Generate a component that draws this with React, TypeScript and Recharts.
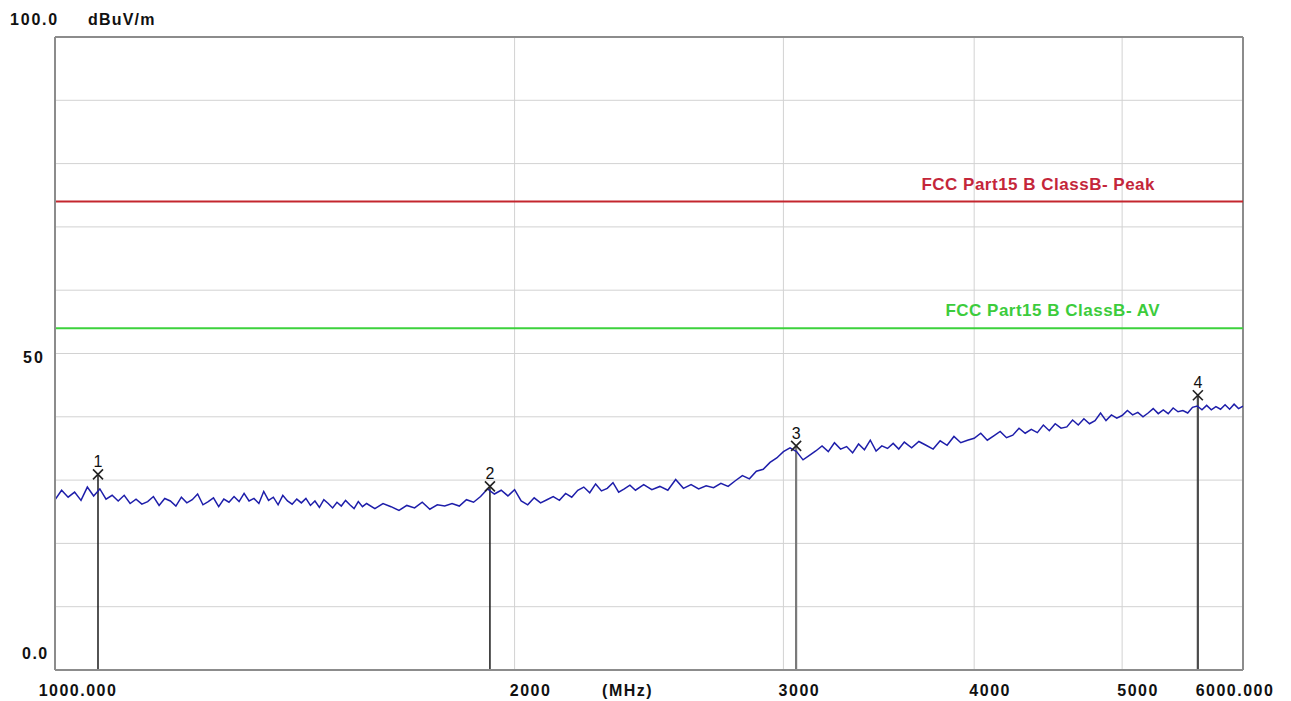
import React from "react";
import {
  ComposedChart, Line, XAxis, YAxis, CartesianGrid,
  ReferenceLine, ReferenceDot,
} from "recharts";

const freqs = [
  1000, 1010, 1020, 1030, 1040, 1050, 1060, 1070, 1080, 1090, 1100,
  1110, 1120, 1130, 1140, 1150, 1160, 1170, 1180, 1190, 1200,
  1210, 1220, 1230, 1240, 1250, 1260, 1270, 1280, 1290, 1300,
  1310, 1320, 1330, 1340, 1350, 1360, 1370, 1380, 1390, 1400,
  1410, 1420, 1430, 1440, 1450, 1460, 1470, 1480, 1490, 1500,
  1510, 1520, 1530, 1540, 1550, 1560, 1570, 1580, 1590, 1600,
  1620, 1640, 1660, 1680, 1700, 1720, 1740, 1760, 1780, 1800,
  1820, 1840, 1860, 1880, 1900, 1920, 1940, 1960, 1980, 2000,
  2020, 2040, 2060, 2080, 2100, 2120, 2140, 2160, 2180, 2200,
  2220, 2240, 2260, 2280, 2300, 2320, 2340, 2360, 2380, 2400,
  2430, 2460, 2490, 2520, 2550, 2580, 2610, 2640, 2670, 2700,
  2730, 2760, 2790, 2820, 2850, 2880, 2910, 2940, 2970, 3000,
  3030, 3060, 3090, 3120, 3150, 3180, 3210, 3240, 3270, 3300,
  3330, 3360, 3390, 3420, 3450, 3480, 3510, 3540, 3570, 3600,
  3640, 3680, 3720, 3760, 3800, 3840, 3880, 3920, 3960, 4000,
  4040, 4080, 4120, 4160, 4200, 4240, 4280, 4320, 4360, 4400,
  4440, 4480, 4520, 4560, 4600, 4640, 4680, 4720, 4760, 4800,
  4840, 4880, 4920, 4960, 5000, 5040, 5080, 5120, 5160, 5200,
  5240, 5280, 5320, 5360, 5400, 5440, 5480, 5520, 5560, 5600,
  5640, 5680, 5720, 5760, 5800, 5840, 5880, 5920, 5960, 6000,
];

const levels = [
  26.9, 28.4, 27.3, 28.1, 26.8, 28.9, 27.5, 28.6, 27.0, 27.6, 26.7,
  27.6, 26.3, 27.0, 26.2, 26.6, 27.4, 26.0, 27.1, 26.7, 25.9,
  27.3, 26.4, 26.9, 27.8, 26.1, 26.6, 27.2, 25.8, 27.0, 26.5,
  27.4, 26.6, 27.9, 26.7, 27.1, 26.3, 28.2, 26.8, 27.3, 26.1,
  27.6, 26.7, 26.2, 27.0, 26.4, 27.1, 26.0, 26.7, 25.7, 26.9,
  26.3, 25.6, 26.5, 25.9, 26.8, 26.1, 25.5, 26.6, 25.8, 26.3,
  25.5, 26.3, 25.8, 25.2, 26.0, 25.6, 26.5, 25.4, 26.1, 25.9,
  26.3, 25.9, 26.9, 26.5, 27.4, 28.6, 27.8, 28.4, 27.5, 28.5,
  26.7, 26.1, 27.2, 26.4, 26.9, 27.4, 26.8, 27.9, 27.3, 28.4,
  28.9, 28.0, 29.4, 28.3, 28.7, 29.6, 28.1, 28.6, 29.2, 28.4,
  29.3, 28.5, 29.0, 28.4, 30.1, 28.7, 29.3, 28.6, 29.1, 28.8,
  29.5, 29.0, 29.9, 30.7, 30.2, 31.4, 31.7, 32.8, 33.5, 34.5,
  35.1, 34.5, 33.2, 33.9, 34.6, 35.4, 34.5, 35.9, 34.9, 35.3,
  34.3, 35.7, 34.8, 36.3, 34.6, 35.4, 35.0, 35.8, 34.9, 36.0,
  35.1, 36.1, 35.5, 34.9, 36.2, 35.5, 36.9, 35.9, 36.3, 36.6,
  37.4, 36.3, 37.0, 37.7, 36.7, 37.1, 38.2, 37.4, 38.0, 37.5,
  38.7, 37.8, 38.9, 38.2, 38.4, 39.5, 38.7, 39.7, 38.9, 39.4,
  40.6, 39.4, 40.3, 39.8, 40.2, 41.0, 40.3, 40.7, 40.0, 40.6,
  41.3, 40.5, 41.1, 40.5, 41.4, 40.8, 41.0, 40.6, 41.5, 41.7,
  41.1, 41.8, 41.1, 41.6, 41.2, 41.9, 41.2, 42.0, 41.3, 41.7,
];

// markers
const markerIds = ["1", "2", "3", "4"];
const markerFreqs = [1067, 1927, 3058, 5605];
const markerLevels = [30.9, 29.0, 35.4, 43.4];
const markerStem = ["#1a1a1a", "#1a1a1a", "#7a7a7a", "#4a4a4a"];

// limit lines
const peakLimit = 74;
const avLimit = 54;
const peakName = "FCC Part15 B ClassB- Peak";
const avName = "FCC Part15 B ClassB- AV";

const xTicks = [1000, 2000, 3000, 4000, 5000, 6000];
const yTicks = [0, 10, 20, 30, 40, 50, 60, 70, 80, 90, 100];

const trace = freqs.map((f, i) => ({ f, v: levels[i] }));

const FONT = "'Liberation Sans', Arial, sans-serif";
const tickText = { fontFamily: FONT, fontWeight: 700, fontSize: 16, fill: "#111" };

function XTick({ x, y, payload }: any) {
  const v = payload.value;
  const label = v === 1000 ? "1000.000" : v === 6000 ? "6000.000" : String(v);
  const dx = v === 1000 ? 23 : v === 6000 ? -8 : 16;
  return (
    <g>
      <text x={x + dx} y={y + 24} textAnchor="middle" letterSpacing={1.5} {...tickText}>
        {label}
      </text>
      {v === 2000 && (
        <text x={x + 113} y={y + 24} textAnchor="middle" letterSpacing={1.5} {...tickText}>
          (MHz)
        </text>
      )}
    </g>
  );
}

function YTick({ y, payload }: any) {
  const v = payload.value;
  if (v === 100) {
    return (
      <g>
        <text x={10} y={y - 12} letterSpacing={1.8} {...tickText}>100.0</text>
        <text x={88} y={y - 12} letterSpacing={1.2} {...tickText}>dBuV/m</text>
      </g>
    );
  }
  if (v === 50) return <text x={23} y={y + 9} letterSpacing={2} {...tickText}>50</text>;
  if (v === 0) return <text x={22} y={y - 11} letterSpacing={1.5} {...tickText}>0.0</text>;
  return <g />;
}

const limitLabel = (text: string, color: string, right: number) => (p: any) => {
  const vb = p.viewBox || {};
  return (
    <text
      x={(vb.x ?? 0) + (vb.width ?? 0) - right}
      y={(vb.y ?? 0) - 12}
      textAnchor="end"
      fontFamily={FONT}
      fontWeight={700}
      fontSize={17}
      letterSpacing={0.5}
      fill={color}
    >
      {text}
    </text>
  );
};

const MarkerX = (id: string) => (p: any) => {
  const { cx, cy } = p;
  return (
    <g>
      <line x1={cx - 5} y1={cy - 5} x2={cx + 5} y2={cy + 5} stroke="#222" strokeWidth={1.6} />
      <line x1={cx - 5} y1={cy + 5} x2={cx + 5} y2={cy - 5} stroke="#222" strokeWidth={1.6} />
      <text x={cx} y={cy - 7} textAnchor="middle" fontFamily={FONT} fontSize={16} fill="#111">
        {id}
      </text>
    </g>
  );
};

export default function App() {
  return (
    <div style={{ position: "absolute", left: 0, top: 0, background: "#fff" }}>
      <ComposedChart
        width={1291}
        height={701}
        data={trace}
        margin={{ top: 37, right: 48, bottom: 0, left: 0 }}
      >
        <CartesianGrid stroke="#d2d2d2" strokeWidth={1} />
        <XAxis
          dataKey="f"
          type="number"
          scale="log"
          domain={[1000, 6000]}
          ticks={xTicks}
          allowDataOverflow
          height={31}
          tickSize={0}
          tickLine={false}
          axisLine={{ stroke: "#8c8c8c", strokeWidth: 2 }}
          tick={<XTick />}
          interval={0}
        />
        <YAxis
          type="number"
          domain={[0, 100]}
          ticks={yTicks}
          width={55}
          tickSize={0}
          tickLine={false}
          axisLine={{ stroke: "#8c8c8c", strokeWidth: 2 }}
          tick={<YTick />}
          interval={0}
        />
        <ReferenceLine y={100} stroke="#8c8c8c" strokeWidth={2} />
        <ReferenceLine x={6000} stroke="#8c8c8c" strokeWidth={2} />
        <ReferenceLine
          y={peakLimit}
          stroke="#c4262e"
          strokeWidth={2}
          label={limitLabel(peakName, "#c4263a", 88)}
        />
        <ReferenceLine
          y={avLimit}
          stroke="#3cd23c"
          strokeWidth={2}
          label={limitLabel(avName, "#3ccc3c", 83)}
        />
        {markerFreqs.map((f, i) => (
          <ReferenceLine
            key={`stem-${i}`}
            segment={[{ x: f, y: markerLevels[i] }, { x: f, y: 0 }]}
            stroke={markerStem[i]}
            strokeWidth={i < 2 ? 1.5 : 2.2}
          />
        ))}
        <Line
          dataKey="v"
          type="linear"
          stroke="#1e1eaa"
          strokeWidth={1.5}
          dot={false}
          isAnimationActive={false}
        />
        {markerFreqs.map((f, i) => (
          <ReferenceDot
            key={`mk-${i}`}
            x={f}
            y={markerLevels[i]}
            r={5}
            shape={MarkerX(markerIds[i])}
          />
        ))}
      </ComposedChart>
    </div>
  );
}
